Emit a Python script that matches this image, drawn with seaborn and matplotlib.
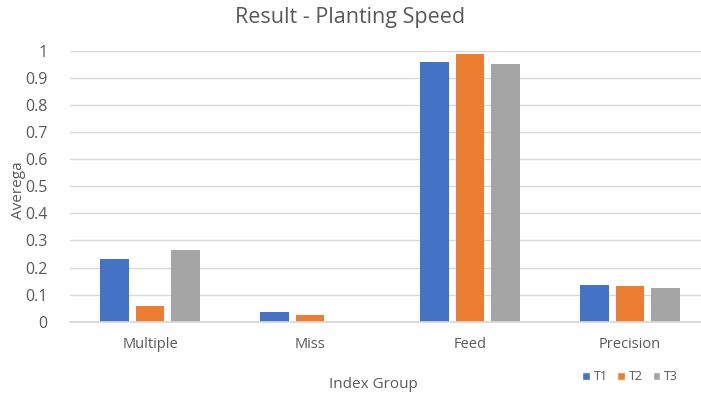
import matplotlib
matplotlib.use("Agg")
import matplotlib.pyplot as plt
import seaborn as sns
import pandas as pd
from matplotlib.patches import Patch

categories = ["Multiple", "Miss", "Feed", "Precision"]
series = ["T1", "T2", "T3"]
t1 = [0.230, 0.037, 0.958, 0.136]
t2 = [0.057, 0.024, 0.989, 0.132]
t3 = [0.265, 0.0, 0.952, 0.126]
colors = ["#4472C4", "#ED7D31", "#A5A5A5"]

rows = []
for name, vals in zip(series, [t1, t2, t3]):
    for c, v in zip(categories, vals):
        rows.append({"Index Group": c, "Series": name, "Value": v})
df = pd.DataFrame(rows)

sns.set_theme(style="white")
plt.rcParams["font.family"] = ["Open Sans", "DejaVu Sans"]

fig = plt.figure(figsize=(7.01, 3.95), dpi=100)
ax = fig.add_axes([70 / 701, 1 - 321.7 / 395, 640 / 701, (321.7 - 51) / 395])

sns.barplot(data=df, x="Index Group", y="Value", hue="Series", order=categories,
            hue_order=series, palette=colors, width=0.666, gap=0.21,
            saturation=1, legend=False, ax=ax, linewidth=0)

ax.set_xlim(-0.5, 3.5)
ax.set_ylim(0, 1)
ax.set_yticks([i / 10 for i in range(11)])
ax.set_yticklabels(["0", "0.1", "0.2", "0.3", "0.4", "0.5", "0.6", "0.7", "0.8", "0.9", "1"])
ax.yaxis.grid(True, color="#D9D9D9", linewidth=1)
ax.set_axisbelow(True)
for s in ["top", "right", "left"]:
    ax.spines[s].set_visible(False)
ax.spines["bottom"].set_color("#D9D9D9")
ax.tick_params(axis="both", length=0, colors="#595959")
ax.tick_params(axis="x", pad=11, labelsize=10.5)
ax.tick_params(axis="y", pad=16, labelsize=11.5)

ax.set_xlabel("")
ax.set_ylabel("")
fig.text(373 / 701, 1 - 384 / 395, "Index Group", ha="center", va="center",
         fontsize=11, color="#595959")
fig.text(18 / 701, 1 - 190 / 395, "Averega", ha="center", va="center",
         rotation=90, fontsize=11, color="#595959")
fig.text(350 / 701, 1 - 18 / 395, "Result - Planting Speed", ha="center",
         va="center", fontsize=15.5, color="#595959")

handles = [Patch(facecolor=c, label=s) for c, s in zip(colors, series)]
fig.legend(handles=handles, loc="center", bbox_to_anchor=(630 / 701, 1 - 377 / 395),
           ncol=3, frameon=False, fontsize=9, handlelength=0.6, handleheight=0.6,
           handletextpad=0.3, columnspacing=0.8, labelcolor="#595959")

fig.savefig("out.png", dpi=100)
